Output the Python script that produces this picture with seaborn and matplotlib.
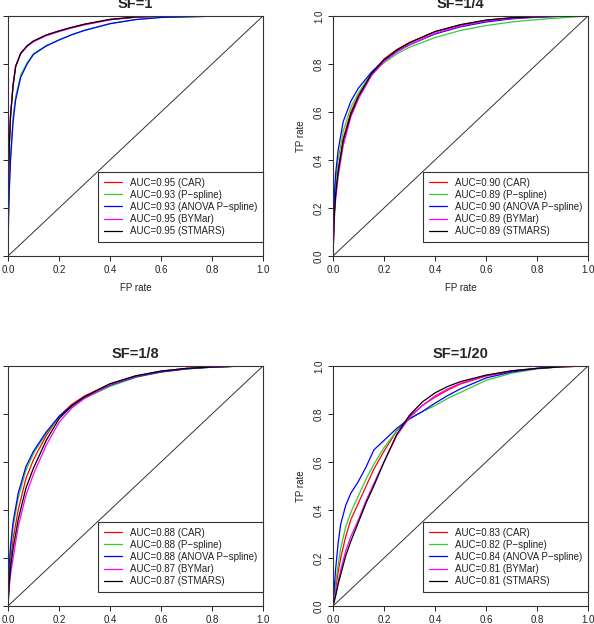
import pandas as pd
import matplotlib
matplotlib.use("Agg")
import matplotlib.pyplot as plt
import seaborn as sns

# model names and colours (R style base colours)
models = ["CAR", "P\u2212spline", "ANOVA P\u2212spline", "BYMar", "STMARS"]
colors = ["red", "#33CC33", "blue", "magenta", "black"]

# SF=1
fpr_sf1 = [0, 0.002, 0.005, 0.01, 0.02, 0.03, 0.05, 0.075, 0.1, 0.15, 0.2, 0.25, 0.3, 0.4, 0.5, 0.6, 0.8, 1.0]
tpr_sf1_car = [0, 0.30, 0.45, 0.58, 0.71, 0.79, 0.845, 0.875, 0.895, 0.92, 0.937, 0.952, 0.965, 0.985, 0.995, 0.999, 1, 1]
tpr_sf1_psp = [0, 0.17, 0.29, 0.42, 0.58, 0.665, 0.755, 0.805, 0.843, 0.877, 0.90, 0.922, 0.94, 0.968, 0.985, 0.994, 0.999, 1]
tpr_sf1_anova = [0, 0.15, 0.27, 0.40, 0.56, 0.65, 0.745, 0.80, 0.84, 0.875, 0.90, 0.922, 0.94, 0.968, 0.985, 0.994, 0.999, 1]
tpr_sf1_bym = [0, 0.32, 0.47, 0.59, 0.715, 0.79, 0.843, 0.873, 0.893, 0.918, 0.935, 0.95, 0.963, 0.984, 0.995, 0.999, 1, 1]
tpr_sf1_stm = [0, 0.31, 0.46, 0.585, 0.712, 0.79, 0.845, 0.876, 0.896, 0.921, 0.938, 0.953, 0.966, 0.986, 0.996, 0.999, 1, 1]
auc_sf1 = ["0.95", "0.93", "0.93", "0.95", "0.95"]

# SF=1/4
fpr_sf4 = [0, 0.005, 0.01, 0.02, 0.04, 0.07, 0.1, 0.15, 0.2, 0.25, 0.3, 0.4, 0.5, 0.6, 0.7, 0.8, 0.9, 1]
tpr_sf4_car = [0, 0.18, 0.26, 0.36, 0.49, 0.60, 0.67, 0.76, 0.82, 0.86, 0.89, 0.935, 0.963, 0.982, 0.992, 0.997, 0.999, 1]
tpr_sf4_psp = [0, 0.22, 0.30, 0.40, 0.52, 0.62, 0.68, 0.76, 0.805, 0.842, 0.87, 0.91, 0.94, 0.96, 0.975, 0.985, 0.993, 1]
tpr_sf4_anova = [0, 0.25, 0.34, 0.44, 0.56, 0.645, 0.70, 0.765, 0.815, 0.852, 0.88, 0.925, 0.955, 0.975, 0.988, 0.995, 0.999, 1]
tpr_sf4_bym = [0, 0.15, 0.23, 0.33, 0.46, 0.58, 0.655, 0.75, 0.81, 0.85, 0.88, 0.928, 0.958, 0.979, 0.99, 0.996, 0.999, 1]
tpr_sf4_stm = [0, 0.17, 0.25, 0.35, 0.48, 0.59, 0.665, 0.758, 0.818, 0.858, 0.888, 0.935, 0.964, 0.983, 0.993, 0.997, 0.999, 1]
auc_sf4 = ["0.90", "0.89", "0.90", "0.89", "0.89"]

# SF=1/8
fpr_sf8 = [0, 0.005, 0.01, 0.02, 0.04, 0.07, 0.1, 0.15, 0.2, 0.25, 0.3, 0.4, 0.5, 0.6, 0.7, 0.8, 0.9, 1]
tpr_sf8_car = [0, 0.12, 0.19, 0.28, 0.40, 0.53, 0.61, 0.71, 0.79, 0.84, 0.875, 0.925, 0.958, 0.978, 0.99, 0.996, 0.999, 1]
tpr_sf8_psp = [0, 0.15, 0.23, 0.33, 0.45, 0.565, 0.635, 0.72, 0.785, 0.83, 0.865, 0.915, 0.952, 0.975, 0.988, 0.995, 0.999, 1]
tpr_sf8_anova = [0, 0.17, 0.25, 0.35, 0.47, 0.58, 0.645, 0.725, 0.79, 0.835, 0.87, 0.92, 0.955, 0.975, 0.988, 0.995, 0.999, 1]
tpr_sf8_bym = [0, 0.08, 0.13, 0.20, 0.33, 0.46, 0.55, 0.67, 0.765, 0.825, 0.865, 0.922, 0.957, 0.978, 0.99, 0.996, 0.999, 1]
tpr_sf8_stm = [0, 0.10, 0.16, 0.24, 0.36, 0.49, 0.575, 0.69, 0.78, 0.834, 0.872, 0.926, 0.959, 0.979, 0.99, 0.996, 0.999, 1]
auc_sf8 = ["0.88", "0.88", "0.88", "0.87", "0.87"]

# SF=1/20
fpr_sf20 = [0, 0.01, 0.02, 0.03, 0.05, 0.07, 0.1, 0.13, 0.16, 0.2, 0.25, 0.3, 0.35, 0.4, 0.45, 0.5, 0.6, 0.7, 0.8, 0.9, 1]
tpr_sf20_car = [0, 0.07, 0.14, 0.20, 0.29, 0.36, 0.43, 0.50, 0.57, 0.645, 0.73, 0.79, 0.835, 0.87, 0.9, 0.925, 0.958, 0.978, 0.99, 0.997, 1]
tpr_sf20_psp = [0, 0.09, 0.17, 0.24, 0.33, 0.39, 0.46, 0.53, 0.59, 0.66, 0.73, 0.78, 0.81, 0.835, 0.865, 0.89, 0.94, 0.97, 0.988, 0.997, 1]
tpr_sf20_anova = [0, 0.15, 0.26, 0.34, 0.42, 0.47, 0.52, 0.58, 0.65, 0.69, 0.74, 0.78, 0.81, 0.845, 0.877, 0.905, 0.95, 0.975, 0.99, 0.998, 1]
tpr_sf20_bym = [0, 0.05, 0.10, 0.15, 0.23, 0.29, 0.36, 0.44, 0.51, 0.60, 0.71, 0.785, 0.835, 0.875, 0.905, 0.928, 0.96, 0.98, 0.99, 0.997, 1]
tpr_sf20_stm = [0, 0.04, 0.09, 0.13, 0.21, 0.27, 0.35, 0.43, 0.50, 0.60, 0.715, 0.795, 0.85, 0.888, 0.915, 0.935, 0.962, 0.98, 0.99, 0.997, 1]
auc_sf20 = ["0.83", "0.82", "0.84", "0.81", "0.81"]

diag = [0, 1]
ticks = [0.0, 0.2, 0.4, 0.6, 0.8, 1.0]

panels = [
    ("SF=1", fpr_sf1, [tpr_sf1_car, tpr_sf1_psp, tpr_sf1_anova, tpr_sf1_bym, tpr_sf1_stm], auc_sf1),
    ("SF=1/4", fpr_sf4, [tpr_sf4_car, tpr_sf4_psp, tpr_sf4_anova, tpr_sf4_bym, tpr_sf4_stm], auc_sf4),
    ("SF=1/8", fpr_sf8, [tpr_sf8_car, tpr_sf8_psp, tpr_sf8_anova, tpr_sf8_bym, tpr_sf8_stm], auc_sf8),
    ("SF=1/20", fpr_sf20, [tpr_sf20_car, tpr_sf20_psp, tpr_sf20_anova, tpr_sf20_bym, tpr_sf20_stm], auc_sf20),
]

sns.set_style("white")
plt.rcParams["font.family"] = ["Liberation Sans", "DejaVu Sans"]

W, H = 594, 624
fig = plt.figure(figsize=(W / 100, H / 100), dpi=100)

# axes boxes in pixels: left, top, right, bottom (the picture is a crop of a bigger page)
boxes = [(8, 16, 263, 256), (333, 16, 588, 256), (8, 366, 263, 606), (333, 366, 588, 606)]

for (title, fpr, tprs, aucs), (x0, y0, x1, y1) in zip(panels, boxes):
    ax = fig.add_axes([x0 / W, 1 - y1 / H, (x1 - x0) / W, (y1 - y0) / H])
    for name, col, tpr, auc in zip(models, colors, tprs, aucs):
        df = pd.DataFrame({"fpr": fpr, "tpr": tpr})
        sns.lineplot(data=df, x="fpr", y="tpr", ax=ax, color=col, lw=0.9,
                     sort=False, estimator=None, label=f"AUC={auc} ({name})")
    ax.plot(diag, diag, color="#333333", lw=0.7)

    ax.set_xlim(0, 1)
    ax.set_ylim(0, 1)
    ax.set_xticks(ticks)
    ax.set_yticks(ticks)
    ax.set_xticklabels([f"{t:.1f}" for t in ticks])
    ax.set_yticklabels([f"{t:.1f}" for t in ticks], rotation=90, va="center")
    ax.tick_params(direction="out", length=3.5, width=0.7, pad=3, labelsize=7,
                   colors="#222222", bottom=True, left=True)
    ax.set_xlabel("FP rate", fontsize=7, labelpad=6, color="#222222")
    ax.set_ylabel("TP rate", fontsize=7, labelpad=6, color="#222222")
    ax.set_title(title, fontsize=10.5, fontweight="bold", pad=6)
    for sp in ax.spines.values():
        sp.set_color("#333333")
        sp.set_linewidth(0.8)

    leg = ax.legend(loc="lower right", bbox_to_anchor=(1.0, 14 / 240), borderaxespad=0,
                    fontsize=7, handlelength=1.9, handletextpad=0.8, labelspacing=0.22,
                    borderpad=0.6, fancybox=False, framealpha=1, edgecolor="#333333")
    leg.get_frame().set_linewidth(0.8)
    for t in leg.get_texts():
        t.set_color("#222222")

fig.savefig("out.png", dpi=100)
